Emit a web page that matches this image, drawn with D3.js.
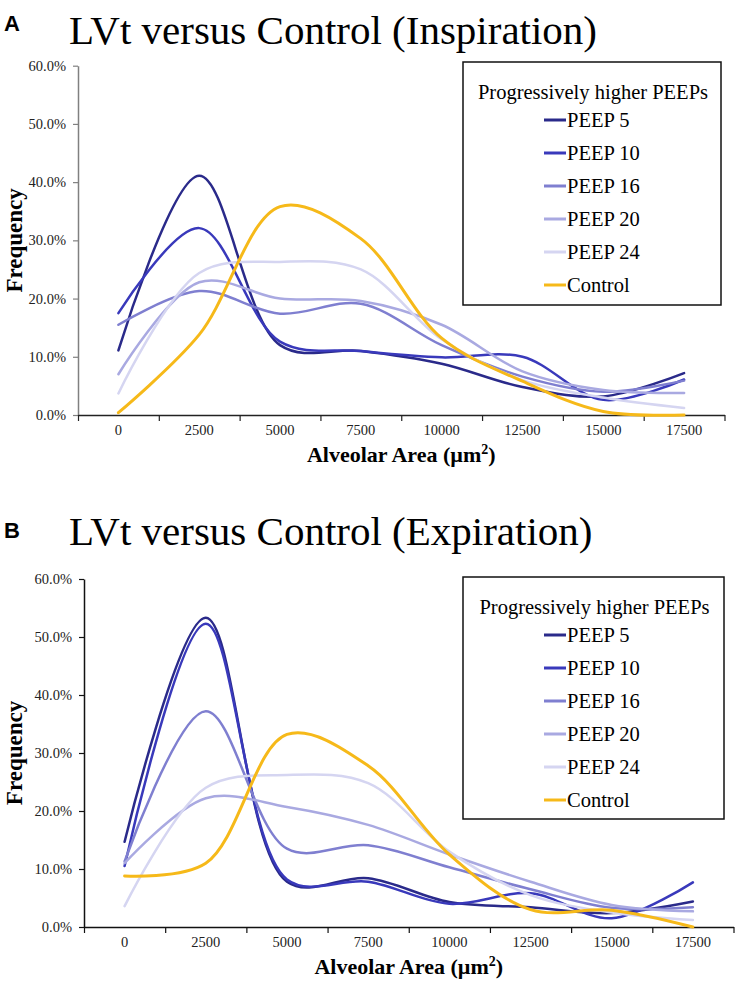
<!DOCTYPE html>
<html>
<head>
<meta charset="utf-8">
<script src="https://cdn.jsdelivr.net/npm/d3@7"></script>
<style>
  html, body { margin: 0; padding: 0; background: #fff; }
  svg { display: block; }
</style>
</head>
<body>
<svg id="chart" width="739" height="989"></svg>
<script>
// ---------- data ----------
const categories = ["0", "2500", "5000", "7500", "10000", "12500", "15000", "17500"];
const seriesNames = ["PEEP 5", "PEEP 10", "PEEP 16", "PEEP 20", "PEEP 24", "Control"];
const yTicks = [0, 0.1, 0.2, 0.3, 0.4, 0.5, 0.6];

// Inspiration (%)
const inspPeep5   = [11.1, 41.1, 12.0, 11.0, 8.8, 4.8, 3.2, 7.2];
const inspPeep10  = [17.5, 32.1, 12.6, 11.0, 9.9, 10.0, 2.6, 6.1];
const inspPeep16  = [15.5, 21.3, 17.4, 19.1, 12.0, 6.6, 4.0, 5.9];
const inspPeep20  = [7.0, 22.8, 20.0, 19.6, 15.5, 7.5, 4.3, 3.8];
const inspPeep24  = [3.7, 24.4, 26.3, 25.0, 13.0, 6.0, 3.0, 1.2];
const inspControl = [0.4, 13.8, 35.8, 30.3, 13.2, 5.8, 0.6, 0.0];

// Expiration (%)
const expPeep5   = [14.7, 53.3, 7.8, 8.4, 4.3, 3.4, 2.4, 4.4];
const expPeep10  = [10.5, 52.3, 8.2, 7.8, 4.0, 5.8, 1.5, 7.7];
const expPeep16  = [11.3, 37.2, 13.5, 14.1, 10.3, 6.5, 3.3, 3.4];
const expPeep20  = [11.0, 22.2, 20.7, 17.6, 12.5, 7.8, 3.8, 2.7];
const expPeep24  = [3.6, 24.0, 26.2, 24.8, 13.0, 5.5, 2.5, 1.2];
const expControl = [8.8, 11.0, 33.2, 27.8, 12.5, 3.0, 2.9, 0.0];

const colors = ["#2a2a8a", "#3939bb", "#7f7fd0", "#a9a9e1", "#d5d5f1", "#f6b919"];
const widths = [2.5, 2.5, 2.5, 2.5, 2.5, 3];

const panels = [
  { letter: "A", title: "LVt versus Control (Inspiration)",
    series: [inspPeep5, inspPeep10, inspPeep16, inspPeep20, inspPeep24, inspControl],
    x0: 78, x1: 724.5, yTop: 65.7, yBot: 415, titleY: 44, letterY: 31,
    yAxisColor: "#808080", xAxisColor: "#222",
    legend: { x: 463, y: 62, w: 258, h: 243 } },
  { letter: "B", title: "LVt versus Control (Expiration)",
    series: [expPeep5, expPeep10, expPeep16, expPeep20, expPeep24, expControl],
    x0: 84, x1: 733.5, yTop: 579, yBot: 927, titleY: 545, letterY: 538,
    yAxisColor: "#111", xAxisColor: "#111",
    legend: { x: 463, y: 577, w: 261, h: 242 } }
];

const svg = d3.select("#chart");
const serif = "'Liberation Serif', 'Times New Roman', serif";

panels.forEach(p => {
  const g = svg.append("g");

  const x = d3.scaleBand().domain(categories).range([p.x0, p.x1]).padding(0);
  const edges = d3.scaleLinear().domain([0, categories.length]).range([p.x0, p.x1]);
  const y = d3.scaleLinear().domain([0, 0.6]).range([p.yBot, p.yTop]);

  // Letter and title
  g.append("text").attr("x", 4).attr("y", p.letterY)
    .attr("font-family", "'Liberation Sans', Arial, sans-serif")
    .attr("font-weight", "bold").attr("font-size", 22).text(p.letter);
  g.append("text").attr("x", 69).attr("y", p.titleY)
    .attr("font-family", serif).attr("font-size", 41).text(p.title);

  // Y axis
  const ya = g.append("g").attr("transform", `translate(${p.x0},0)`)
    .call(d3.axisLeft(y).tickValues(yTicks).tickFormat(d3.format(".1%")).tickSize(5).tickSizeOuter(0));
  ya.select(".domain").attr("stroke", p.yAxisColor).attr("stroke-width", 1.5);
  ya.selectAll(".tick line").attr("stroke", p.yAxisColor).attr("stroke-width", 1.2);
  ya.selectAll(".tick text").attr("x", -12).attr("font-family", serif)
    .attr("font-size", 14.5).attr("fill", "#222");

  // X axis ticks at band edges
  const xe = g.append("g").attr("transform", `translate(0,${p.yBot})`)
    .call(d3.axisBottom(edges).tickValues(d3.range(categories.length + 1)).tickFormat("").tickSize(6).tickSizeOuter(0));
  xe.select(".domain").attr("stroke", p.xAxisColor).attr("stroke-width", 1.5);
  xe.selectAll(".tick line").attr("stroke", p.xAxisColor).attr("stroke-width", 1.2);

  // X category labels
  const xl = g.append("g").attr("transform", `translate(0,${p.yBot})`)
    .call(d3.axisBottom(x).tickSize(0).tickPadding(10));
  xl.select(".domain").remove();
  xl.selectAll(".tick text").attr("font-family", serif).attr("font-size", 14.5).attr("fill", "#222");

  // Axis titles
  g.append("text")
    .attr("transform", `translate(22,${(p.yTop + p.yBot) / 2}) rotate(-90)`)
    .attr("text-anchor", "middle").attr("font-family", serif)
    .attr("font-weight", "bold").attr("font-size", 23).text("Frequency");
  const xt = g.append("text")
    .attr("x", (p.x0 + p.x1) / 2).attr("y", p.yBot + 47)
    .attr("text-anchor", "middle").attr("font-family", serif)
    .attr("font-weight", "bold").attr("font-size", 22);
  xt.append("tspan").text("Alveolar Area (µm");
  xt.append("tspan").attr("font-size", 14).attr("dy", -8).text("2");
  xt.append("tspan").attr("dy", 8).text(")");

  // Lines
  const line = d3.line()
    .x((d, i) => x(categories[i]) + x.bandwidth() / 2)
    .y(d => y(d / 100))
    .curve(d3.curveCatmullRom.alpha(0.5));

  p.series.forEach((s, i) => {
    g.append("path").datum(s)
      .attr("d", line)
      .attr("fill", "none")
      .attr("stroke", colors[i])
      .attr("stroke-width", widths[i])
      .attr("stroke-linecap", "round")
      .attr("stroke-linejoin", "round");
  });

  // Legend
  const L = p.legend;
  const lg = g.append("g");
  lg.append("rect").attr("x", L.x).attr("y", L.y).attr("width", L.w).attr("height", L.h)
    .attr("fill", "#fff").attr("stroke", "#111").attr("stroke-width", 1.5);
  lg.append("text").attr("x", L.x + L.w / 2 + 1).attr("y", L.y + 37)
    .attr("text-anchor", "middle").attr("font-family", serif).attr("font-size", 20.5)
    .text("Progressively higher PEEPs");
  seriesNames.forEach((name, i) => {
    const cy = L.y + 58 + i * 33;
    lg.append("line").attr("x1", L.x + 81).attr("x2", L.x + 103)
      .attr("y1", cy).attr("y2", cy)
      .attr("stroke", colors[i]).attr("stroke-width", 3);
    lg.append("text").attr("x", L.x + 104).attr("y", cy + 7)
      .attr("font-family", serif).attr("font-size", 20.5).text(name);
  });
});
</script>
</body>
</html>
